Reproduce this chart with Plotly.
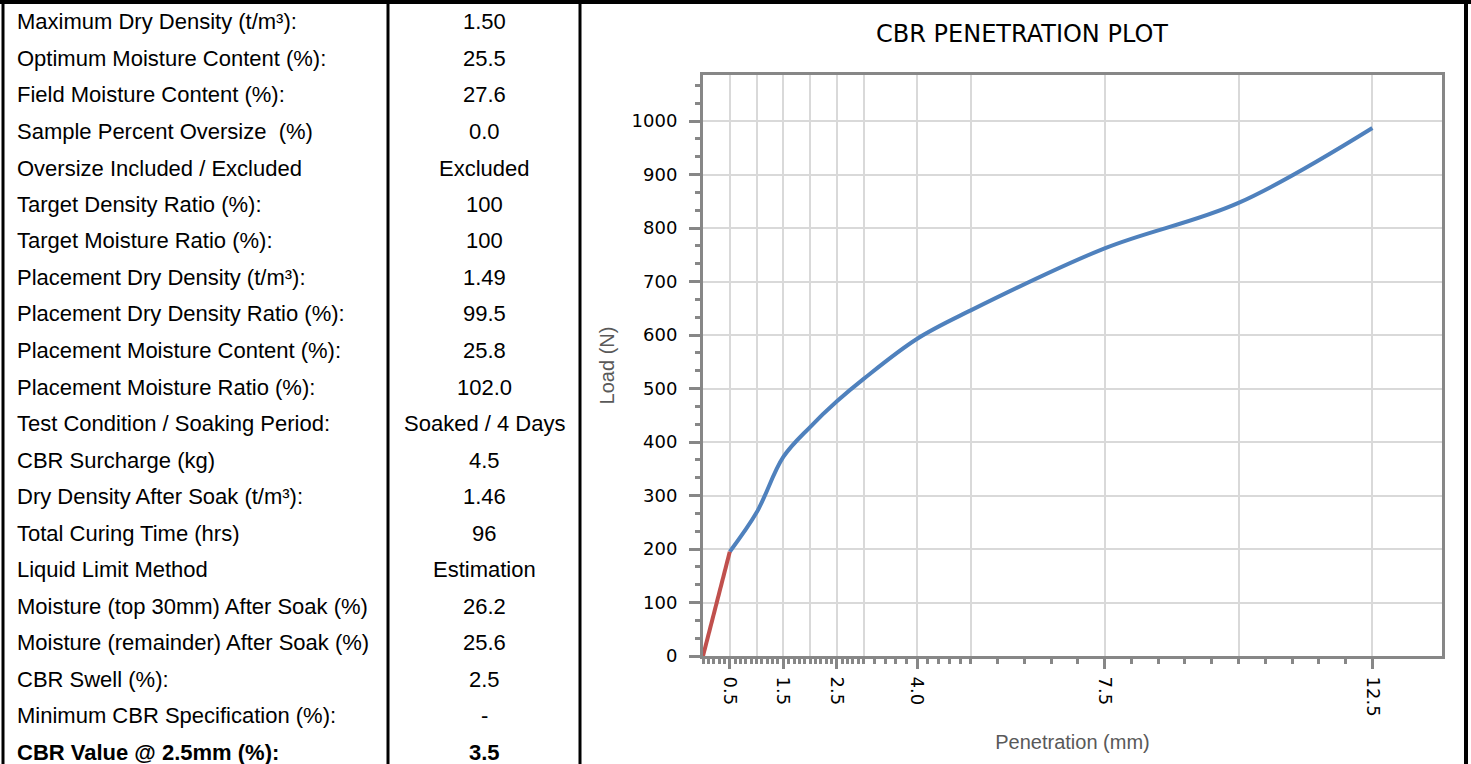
import numpy as np
import plotly.graph_objects as go

W, H = 1471, 764

# ---- table data ----
row_labels = [
    "Maximum Dry Density (t/m³):",
    "Optimum Moisture Content (%):",
    "Field Moisture Content (%):",
    "Sample Percent Oversize  (%)",
    "Oversize Included / Excluded",
    "Target Density Ratio (%):",
    "Target Moisture Ratio (%):",
    "Placement Dry Density (t/m³):",
    "Placement Dry Density Ratio (%):",
    "Placement Moisture Content (%):",
    "Placement Moisture Ratio (%):",
    "Test Condition / Soaking Period:",
    "CBR Surcharge (kg)",
    "Dry Density After Soak (t/m³):",
    "Total Curing Time (hrs)",
    "Liquid Limit Method",
    "Moisture (top 30mm) After Soak (%)",
    "Moisture (remainder) After Soak (%)",
    "CBR Swell (%):",
    "Minimum CBR Specification (%):",
    "CBR Value @ 2.5mm (%):",
]
row_values = [
    "1.50", "25.5", "27.6", "0.0", "Excluded", "100", "100", "1.49", "99.5",
    "25.8", "102.0", "Soaked / 4 Days", "4.5", "1.46", "96", "Estimation",
    "26.2", "25.6", "2.5", "-", "3.5",
]

# ---- chart data ----
penetration = [0, 0.5, 1.0, 1.5, 2.0, 2.5, 3.0, 4.0, 5.0, 7.5, 10.0, 12.5]
load = [0, 195, 268, 372, 428, 476, 518, 593, 646, 762, 847, 987]
corr_pen = [0, 0.5]
corr_load = [0, 195]

x_major = [0.5, 1.0, 1.5, 2.0, 2.5, 3.0, 4.0, 5.0, 7.5, 10.0, 12.5]
x_major_text = ["0.5", "", "1.5", "", "2.5", "", "4.0", "", "7.5", "", "12.5"]


def px(x):
    return x / W


def py(y):
    return 1 - y / H


x_minor = sorted(set(
    [round(v, 2) for v in np.arange(0, 3.0001, 0.1)]
    + [round(v, 2) for v in np.arange(3.0, 5.0001, 0.2)]
    + [round(v, 2) for v in np.arange(5.0, 12.5001, 0.5)]
))

fig = go.Figure()
# blue curve (the 0-0.5 mm segment is covered by the red correction line)
fig.add_trace(go.Scatter(
    x=penetration[1:], y=load[1:], mode="lines",
    line=dict(color="#4f81bd", width=4, shape="spline", smoothing=1.0),
    showlegend=False, hoverinfo="x+y",
))
fig.add_trace(go.Scatter(
    x=corr_pen, y=corr_load, mode="lines",
    line=dict(color="#c0504d", width=4),
    showlegend=False, hoverinfo="x+y",
))

GRAY = "#878787"
GRID = "#d9d9d9"
fig.update_layout(
    width=W, height=H, autosize=False,
    margin=dict(l=0, r=0, t=0, b=0, autoexpand=False),
    paper_bgcolor="white", plot_bgcolor="white",
    title=dict(text="CBR PENETRATION PLOT", x=px(1022), y=py(34),
               xref="paper", yref="paper", xanchor="center", yanchor="middle",
               font=dict(family="DejaVu Sans", size=24, color="black")),
    xaxis=dict(
        domain=[px(703), px(1442)], range=[0, 13.8], automargin=False,
        tickmode="array", tickvals=x_major, ticktext=x_major_text,
        tickangle=90, ticks="outside", ticklen=10, tickwidth=3, tickcolor=GRAY,
        ticklabelstandoff=4,
        tickfont=dict(family="DejaVu Sans", size=18, color="black"),
        showgrid=True, gridcolor=GRID, gridwidth=2,
        showline=True, linecolor=GRAY, linewidth=3, mirror=True,
        zeroline=False,
        minor=dict(tickmode="array", tickvals=x_minor, ticks="outside",
                   ticklen=5, tickwidth=3, tickcolor=GRAY, showgrid=False),
        title=dict(text="Penetration (mm)", standoff=20,
                   font=dict(family="Liberation Sans", size=20, color="#595959")),
    ),
    yaxis=dict(
        domain=[py(656), py(75)], range=[0, 1086], automargin=False,
        tickmode="linear", tick0=0, dtick=100,
        ticks="outside", ticklen=11, tickwidth=3, tickcolor=GRAY,
        ticklabelstandoff=8,
        tickfont=dict(family="DejaVu Sans", size=18, color="black"),
        showgrid=True, gridcolor=GRID, gridwidth=2,
        showline=True, linecolor=GRAY, linewidth=3, mirror=True,
        zeroline=False,
        minor=dict(tick0=0, dtick=100 / 3, ticks="outside", ticklen=5,
                   tickwidth=3, tickcolor=GRAY, showgrid=False),
        title=dict(text="Load (N)", standoff=12,
                   font=dict(family="Liberation Sans", size=20, color="#595959")),
    ),
)

# table text
row_top, row_step = 22, 36.5
annotations = []
for i, (lab, val) in enumerate(zip(row_labels, row_values)):
    yc = row_top + i * row_step
    bold = i == len(row_labels) - 1
    lt = f"<b>{lab}</b>" if bold else lab
    vt = f"<b>{val}</b>" if bold else val
    annotations.append(dict(x=px(15), y=py(yc), xref="paper", yref="paper",
                            text=lt, showarrow=False, xanchor="left", yanchor="middle",
                            font=dict(family="Liberation Sans", size=22, color="black")))
    annotations.append(dict(x=px(484), y=py(yc), xref="paper", yref="paper",
                            text=vt, showarrow=False, xanchor="center", yanchor="middle",
                            font=dict(family="Liberation Sans", size=22, color="black")))
fig.update_layout(annotations=annotations)

# borders
shapes = [
    dict(type="line", xref="paper", yref="paper", x0=0, x1=1, y0=py(2), y1=py(2),
         line=dict(color="black", width=4)),
]
for xv, wv in [(3, 3), (388, 3), (580, 3), (1466, 4)]:
    shapes.append(dict(type="line", xref="paper", yref="paper", x0=px(xv), x1=px(xv),
                       y0=0, y1=1, line=dict(color="black", width=wv)))
fig.update_layout(shapes=shapes)

fig.write_html("out.html", config={"displayModeBar": False},
               post_script="document.body.style.margin='0';document.body.style.overflow='hidden';")
